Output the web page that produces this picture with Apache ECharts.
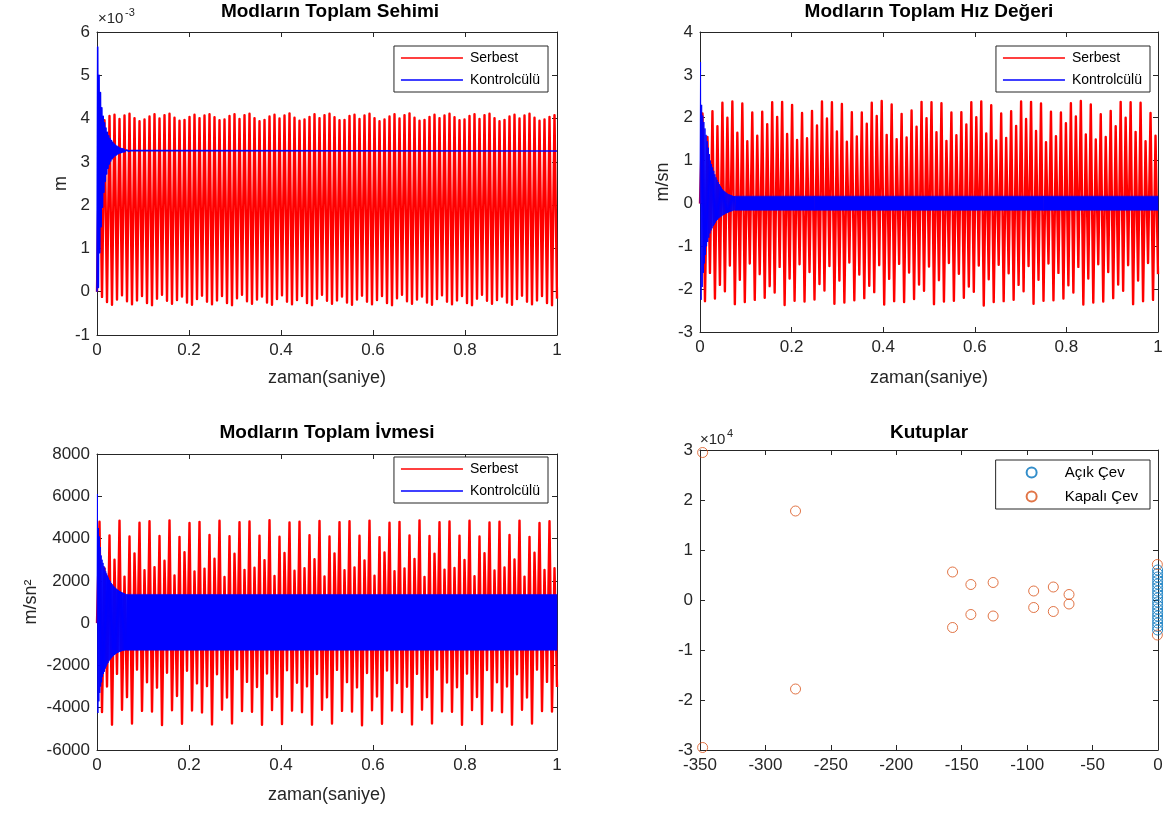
<!DOCTYPE html>
<html>
<head>
<meta charset="utf-8">
<script src="https://cdn.jsdelivr.net/npm/echarts/dist/echarts.min.js"></script>
<style>
html,body{margin:0;padding:0;background:#fff}
#grafik{width:1171px;height:813px}
</style>
</head>
<body>
<div id="grafik"></div>
<script>
// ---- Serbest (kontrolsüz) yanıt: ardışık tepe / dip değerleri, 1 s boyunca eşit aralıklı ----
const baslangic = 0;

// Modların toplam sehimi (×10^-3 m)
const sehimTepe = [
  4.02,3.96,4.06,4.09,3.99,4.07,4.11,4.01,3.94,3.98,
  4.05,4.10,4.00,4.08,4.11,4.02,3.95,3.97,4.04,4.09,
  4.01,4.07,4.10,4.03,3.96,3.98,4.06,4.10,3.99,4.08,
  4.11,4.01,3.94,3.97,4.05,4.09,4.00,4.07,4.12,4.02,
  3.95,3.98,4.04,4.10,4.01,4.08,4.11,4.03,3.96,3.97,
  4.06,4.09,3.99,4.07,4.11,4.01,3.94,3.98,4.05,4.10,
  4.00,4.08,4.12,4.02,3.95,3.97,4.04,4.09,4.01,4.07,
  4.11,4.03,3.96,3.98,4.06,4.10,3.99,4.08,4.11,4.01,
  3.94,3.97,4.05,4.09,4.00,4.07,4.11,4.02,3.95,3.98,
  4.04,4.08];
const sehimDip = [
  -0.12,-0.24,-0.30,-0.18,-0.08,-0.22,-0.29,-0.20,-0.10,-0.26,
  -0.31,-0.16,-0.07,-0.21,-0.28,-0.19,-0.11,-0.25,-0.30,-0.17,
  -0.09,-0.23,-0.29,-0.20,-0.10,-0.26,-0.31,-0.15,-0.07,-0.22,
  -0.28,-0.18,-0.11,-0.25,-0.30,-0.17,-0.08,-0.23,-0.29,-0.19,
  -0.10,-0.26,-0.31,-0.16,-0.07,-0.21,-0.28,-0.20,-0.11,-0.25,
  -0.30,-0.18,-0.09,-0.23,-0.29,-0.19,-0.10,-0.26,-0.31,-0.15,
  -0.07,-0.22,-0.28,-0.18,-0.11,-0.25,-0.30,-0.17,-0.08,-0.23,
  -0.29,-0.20,-0.10,-0.26,-0.31,-0.16,-0.07,-0.21,-0.28,-0.19,
  -0.11,-0.25,-0.30,-0.17,-0.09,-0.23,-0.29,-0.20,-0.10,-0.26,
  -0.31,-0.16];

// Modların toplam hız değeri (m/sn)
const hizTepe = [
  2.10,1.55,2.15,1.80,2.35,2.00,2.38,1.65,2.33,1.45,
  2.12,1.58,2.14,1.85,2.36,2.02,2.37,1.62,2.30,1.48,
  2.11,1.52,2.16,1.82,2.38,1.98,2.36,1.68,2.32,1.44,
  2.13,1.56,2.12,1.86,2.35,2.04,2.39,1.60,2.31,1.50,
  2.09,1.54,2.17,1.79,2.37,1.99,2.36,1.66,2.34,1.46,
  2.12,1.59,2.13,1.84,2.36,2.01,2.38,1.63,2.29,1.47,
  2.10,1.53,2.15,1.81,2.38,1.97,2.37,1.69,2.33,1.43,
  2.14,1.57,2.12,1.87,2.34,2.03,2.39,1.61,2.31,1.49,
  2.08,1.55,2.16,1.80,2.37,2.00,2.36,1.67,2.35,1.45,
  2.11,1.58];
const hizDip = [
  -2.28,-1.62,-2.22,-1.90,-2.05,-1.45,-2.35,-1.78,-2.30,-1.40,
  -2.25,-1.65,-2.20,-1.93,-2.08,-1.48,-2.37,-1.75,-2.27,-1.42,
  -2.29,-1.60,-2.24,-1.88,-2.03,-1.46,-2.34,-1.80,-2.31,-1.38,
  -2.26,-1.66,-2.21,-1.92,-2.07,-1.44,-2.36,-1.76,-2.28,-1.41,
  -2.30,-1.61,-2.23,-1.89,-2.04,-1.47,-2.35,-1.79,-2.29,-1.39,
  -2.27,-1.64,-2.20,-1.94,-2.06,-1.45,-2.38,-1.77,-2.30,-1.43,
  -2.28,-1.63,-2.25,-1.90,-2.05,-1.46,-2.34,-1.78,-2.27,-1.40,
  -2.26,-1.62,-2.22,-1.91,-2.08,-1.48,-2.36,-1.75,-2.31,-1.42,
  -2.29,-1.60,-2.21,-1.89,-2.04,-1.44,-2.35,-1.80,-2.28,-1.39,
  -2.25,-1.65];

// Modların toplam ivmesi (m/sn²)
const ivmeTepe = [
  4800,2600,4150,3000,4850,2200,4100,3300,4750,2500,
  4820,2650,4120,2950,4860,2250,4080,3350,4740,2450,
  4790,2580,4170,3050,4840,2180,4110,3280,4770,2520,
  4810,2620,4140,2980,4870,2230,4090,3320,4760,2480,
  4800,2600,4160,3020,4830,2210,4100,3300,4780,2500,
  4820,2640,4130,2970,4850,2240,4070,3340,4750,2460,
  4790,2590,4150,3040,4860,2190,4120,3290,4770,2530,
  4810,2610,4140,2990,4840,2220,4100,3310,4760,2490,
  4800,2630,4170,3010,4850,2200,4080,3330,4740,2510,
  4820,2600];
const ivmeDip = [
  -4200,-3000,-4800,-2400,-4100,-3500,-4750,-2200,-4150,-2800,
  -4180,-3050,-4820,-2350,-4120,-3450,-4760,-2250,-4130,-2850,
  -4220,-2980,-4790,-2420,-4090,-3520,-4740,-2180,-4160,-2780,
  -4190,-3020,-4810,-2380,-4110,-3480,-4770,-2230,-4140,-2820,
  -4210,-2990,-4800,-2410,-4100,-3510,-4750,-2210,-4150,-2790,
  -4180,-3040,-4830,-2360,-4120,-3470,-4760,-2240,-4130,-2830,
  -4200,-3010,-4790,-2400,-4090,-3500,-4740,-2190,-4170,-2810,
  -4190,-3030,-4810,-2390,-4110,-3490,-4770,-2220,-4140,-2800,
  -4210,-3000,-4800,-2420,-4100,-3520,-4750,-2200,-4160,-2780,
  -4180,-3020];

// ---- Kontrolcülü yanıt: sönümlenen geçici kısım (eşit adımlı örnekler) ----
const sehimKontrolAdim = 0.0015;
const sehimKontrol = [
  0,5.65,0.1,5.0,0.9,4.6,1.5,4.25,1.95,4.05,2.3,3.9,2.55,3.78,2.72,3.68,2.85,3.6,2.95,3.54,
  3.02,3.49,3.07,3.45,3.11,3.41,3.14,3.38,3.16,3.36,3.18,3.34,3.2,3.32,3.21,3.31,3.22,3.3,
  3.23,3.29,3.235,3.28,3.24,3.275,3.24,3.27,3.245,3.265,3.245,3.26,3.25];
const sehimKontrolKuyruk = [[0.075, 3.25], [1.0, 3.25]];

const hizKontrolAdim = 0.0012;
const hizKontrol = [
  0,3.3,-2.25,2.3,-1.95,2.05,-1.62,1.9,-1.4,1.75,-1.2,1.6,-1.0,1.45,-0.9,1.3,-0.8,1.15,-0.7,1.0,
  -0.63,0.92,-0.58,0.84,-0.53,0.76,-0.49,0.68,-0.45,0.61,-0.41,0.55,-0.38,0.5,-0.35,0.45,-0.33,
  0.41,-0.31,0.37,-0.29,0.33,-0.27,0.3,-0.26,0.28,-0.24,0.26,-0.23,0.24,-0.22,0.22,-0.21,0.21,
  -0.2,0.2,-0.19,0.19,-0.18,0.18,-0.17,0.17,-0.16,0.17,-0.16];
// yerleşik hızlı salınımın zarfı
const hizBantZaman = [0.0768, 0.25, 0.5, 0.75, 1.0];
const hizBantUst   = [0.17, 0.17, 0.17, 0.17, 0.17];
const hizBantAlt   = [-0.16, -0.16, -0.16, -0.16, -0.16];

const ivmeKontrolAdim = 0.001;
const ivmeKontrol = [
  0,6100,-4250,4500,-3700,4100,-3300,3600,-3000,3200,-2800,3000,-2550,2850,-2400,2700,-2300,2600,
  -2150,2450,-2050,2350,-1950,2250,-1880,2150,-1800,2050,-1740,1980,-1680,1900,-1630,1840,-1580,
  1780,-1540,1730,-1500,1690,-1470,1650,-1440,1610,-1410,1580,-1390,1550,-1370,1520,-1350,1500,
  -1340,1470,-1320,1450,-1310,1430,-1300,1410,-1290,1390,-1285,1370,-1280,1360];
const ivmeBantZaman = [0.065, 0.25, 0.5, 0.75, 1.0];
const ivmeBantUst   = [1360, 1350, 1350, 1350, 1350];
const ivmeBantAlt   = [-1280, -1280, -1280, -1280, -1280];

// ---- Kutuplar (Re, Im ×10^4) ----
const acikCevRe = [-0.3,-0.3,-0.3,-0.3,-0.3,-0.3,-0.3,-0.3,-0.3,-0.3,-0.3,-0.3,-0.3,-0.3,-0.3,-0.3,-0.3,-0.3];
const acikCevIm = [0.04,-0.04,0.11,-0.11,0.18,-0.18,0.25,-0.25,0.32,-0.32,0.39,-0.39,0.46,-0.46,0.53,-0.53,0.60,-0.60];
const kapaliCevRe = [-348,-348,-277,-277,-157,-157,-143,-143,-126,-126,-95,-95,-80,-80,-68,-68,-0.5,-0.5];
const kapaliCevIm = [2.95,-2.95,1.78,-1.78,0.56,-0.55,0.31,-0.29,0.35,-0.32,0.18,-0.15,0.26,-0.23,0.11,-0.08,0.71,-0.70];

// ---- yardımcılar ----
const FONT = "'Liberation Sans', Arial, Helvetica, sans-serif";
const EKSEN_RENK = '#262626';

function zikzak(ilk, tepe, dip) {
  const n = tepe.length * 2;
  const d = [[0, ilk]];
  for (let i = 0; i < tepe.length; i++) {
    d.push([(2 * i + 1) / n, tepe[i]]);
    d.push([(2 * i + 2) / n, dip[i]]);
  }
  return d;
}
function esitAdim(degerler, adim) {
  return degerler.map((v, k) => [k * adim, v]);
}
function bantVerisi(zaman, ust, alt) {
  return zaman.map((t, i) => [t, ust[i], alt[i]]);
}
function bantCiz(params, api) {
  const n = params.dataInsideLength;
  const i = params.dataIndex;
  if (i >= n - 1) return null;
  const t0 = api.value(0, i), t1 = api.value(0, i + 1);
  const pts = [
    api.coord([t0, api.value(1, i)]),
    api.coord([t1, api.value(1, i + 1)]),
    api.coord([t1, api.value(2, i + 1)]),
    api.coord([t0, api.value(2, i)])
  ];
  return { type: 'polygon', shape: { points: pts },
           style: { fill: '#0000ff', stroke: '#0000ff', lineWidth: 0.6 } };
}

const grids = [
  { left: 97,  top: 32,  width: 460, height: 303 },
  { left: 700, top: 32,  width: 458, height: 300 },
  { left: 97,  top: 454, width: 460, height: 296 },
  { left: 700, top: 450, width: 458, height: 300 }
];

const xOlcek = [
  { min: 0, max: 1, interval: 0.2, name: 'zaman(saniye)', gap: 34 },
  { min: 0, max: 1, interval: 0.2, name: 'zaman(saniye)', gap: 37 },
  { min: 0, max: 1, interval: 0.2, name: 'zaman(saniye)', gap: 36 },
  { min: -350, max: 0, interval: 50, name: '', gap: 30 }
];
const yOlcek = [
  { min: -1, max: 6, interval: 1, name: 'm', gap: 27 },
  { min: -3, max: 4, interval: 1, name: 'm/sn', gap: 28 },
  { min: -6000, max: 8000, interval: 2000, name: 'm/sn²', gap: 57 },
  { min: -3, max: 3, interval: 1, name: '', gap: 30 }
];

function eksen(o, gi, konum, etiketli) {
  return {
    type: 'value', gridIndex: gi, position: konum,
    min: o.min, max: o.max, interval: o.interval,
    name: etiketli ? o.name : '', nameLocation: 'middle', nameGap: o.gap,
    nameRotate: (konum === 'left') ? 90 : 0,
    nameTextStyle: { fontFamily: FONT, fontSize: 18, color: EKSEN_RENK },
    axisLine: { show: true, onZero: false, lineStyle: { color: EKSEN_RENK, width: 1 } },
    axisTick: { show: true, inside: true, length: 5, lineStyle: { color: EKSEN_RENK } },
    axisLabel: { show: etiketli, fontFamily: FONT, fontSize: 17, color: EKSEN_RENK, margin: 7,
                 formatter: (v) => String(v) },
    splitLine: { show: false }
  };
}

const xAxes = [], yAxes = [];
for (let g = 0; g < 4; g++) {
  xAxes.push(eksen(xOlcek[g], g, 'bottom', true));
  yAxes.push(eksen(yOlcek[g], g, 'left', true));
}
for (let g = 0; g < 4; g++) {
  xAxes.push(eksen(xOlcek[g], g, 'top', false));
  yAxes.push(eksen(yOlcek[g], g, 'right', false));
}

function cizgi(ad, g, veri, renk, z, kalinlik) {
  return { type: 'line', name: ad, xAxisIndex: g, yAxisIndex: g, data: veri,
           showSymbol: false, symbol: 'none', clip: true, z: z,
           lineStyle: { color: renk, width: kalinlik || 1, join: 'round' }, itemStyle: { color: renk },
           emphasis: { disabled: true } };
}
function bant(g, veri) {
  return { type: 'custom', xAxisIndex: g, yAxisIndex: g, data: veri,
           renderItem: bantCiz, z: 4, encode: { x: 0, y: [1, 2] }, silent: true };
}

const KIRMIZI = '#ff0000', MAVI = '#0000ff';
const SERBEST_KALINLIK = 2.4;

const series = [
  cizgi('Serbest', 0, zikzak(baslangic, sehimTepe, sehimDip), KIRMIZI, 2, SERBEST_KALINLIK),
  cizgi('Kontrolcülü', 0, esitAdim(sehimKontrol, sehimKontrolAdim).concat(sehimKontrolKuyruk), MAVI, 3, 1.6),

  cizgi('Serbest', 1, zikzak(baslangic, hizTepe, hizDip), KIRMIZI, 2, SERBEST_KALINLIK),
  cizgi('Kontrolcülü', 1, esitAdim(hizKontrol, hizKontrolAdim), MAVI, 3),
  bant(1, bantVerisi(hizBantZaman, hizBantUst, hizBantAlt)),

  cizgi('Serbest', 2, zikzak(baslangic, ivmeTepe, ivmeDip), KIRMIZI, 2, SERBEST_KALINLIK),
  cizgi('Kontrolcülü', 2, esitAdim(ivmeKontrol, ivmeKontrolAdim), MAVI, 3),
  bant(2, bantVerisi(ivmeBantZaman, ivmeBantUst, ivmeBantAlt)),

  { type: 'scatter', name: 'Kapalı Çev', xAxisIndex: 3, yAxisIndex: 3, z: 2,
    data: kapaliCevRe.map((r, i) => [r, kapaliCevIm[i]]),
    symbol: 'circle', symbolSize: 10,
    itemStyle: { color: 'rgba(0,0,0,0)', borderColor: '#D95319', borderWidth: 1 } },
  { type: 'scatter', name: 'Açık Çev', xAxisIndex: 3, yAxisIndex: 3, z: 3,
    data: acikCevRe.map((r, i) => [r, acikCevIm[i]]),
    symbol: 'circle', symbolSize: 10,
    itemStyle: { color: 'rgba(0,0,0,0)', borderColor: '#0072BD', borderWidth: 1 } }
];

function cizgiLejant(sag, ust) {
  return {
    orient: 'vertical', right: sag, top: ust,
    data: ['Serbest', 'Kontrolcülü'], icon: 'rect',
    itemWidth: 62, itemHeight: 1.5, itemGap: 8,
    padding: [5, 8, 5, 7],
    borderColor: EKSEN_RENK, borderWidth: 1, backgroundColor: '#fff',
    textStyle: { fontFamily: FONT, fontSize: 14, color: '#000', padding: [0, 0, 0, 2] },
    selectedMode: false
  };
}

const legend = [
  cizgiLejant(1171 - 548, 46),
  cizgiLejant(1171 - 1150, 46),
  cizgiLejant(1171 - 548, 457),
  {
    orient: 'vertical', right: 1171 - 1150, top: 460,
    data: ['Açık Çev', 'Kapalı Çev'], icon: 'circle',
    itemWidth: 48, itemHeight: 10, itemGap: 9,
    padding: [5, 12, 5, 30],
    borderColor: EKSEN_RENK, borderWidth: 1, backgroundColor: '#fff',
    textStyle: { fontFamily: FONT, fontSize: 15, color: '#000', padding: [0, 0, 0, 4] },
    selectedMode: false
  }
];

function yazi(x, y, metin, font, hiza) {
  return { type: 'text', x: x, y: y, z: 100,
           style: { text: metin, font: font, fill: '#000', align: hiza || 'center', verticalAlign: 'middle' } };
}
function usluYazi(x, y, taban, us) {
  return [
    { type: 'text', x: x, y: y, z: 100,
      style: { text: taban, font: '15px ' + FONT, fill: EKSEN_RENK, align: 'left', verticalAlign: 'middle' } },
    { type: 'text', x: x + 27, y: y - 6, z: 100,
      style: { text: us, font: '11px ' + FONT, fill: EKSEN_RENK, align: 'left', verticalAlign: 'middle' } }
  ];
}

const BASLIK_FONT = 'bold 19px ' + FONT;
const graphic = [
  yazi(330, 12, 'Modların Toplam Sehimi', BASLIK_FONT),
  yazi(929, 12, 'Modların Toplam Hız Değeri', BASLIK_FONT),
  yazi(327, 433, 'Modların Toplam İvmesi', BASLIK_FONT),
  yazi(929, 433, 'Kutuplar', BASLIK_FONT)
].concat(usluYazi(98, 19, '×10', '-3'), usluYazi(700, 440, '×10', '4'));

const grafik = echarts.init(document.getElementById('grafik'), null, { renderer: 'canvas' });
grafik.setOption({
  animation: false,
  backgroundColor: '#fff',
  grid: grids,
  xAxis: xAxes,
  yAxis: yAxes,
  legend: legend,
  series: series,
  graphic: graphic
});
</script>
</body>
</html>
